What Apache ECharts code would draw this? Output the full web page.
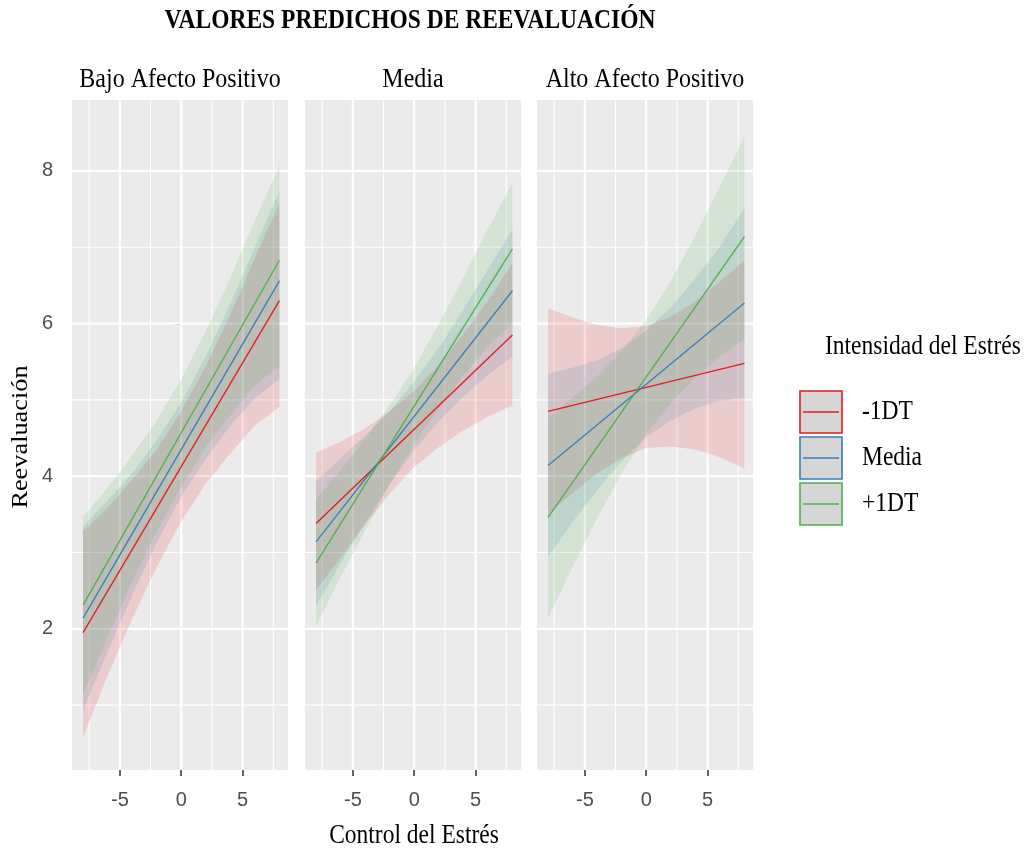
<!DOCTYPE html>
<html><head><meta charset="utf-8">
<script src="https://cdn.jsdelivr.net/npm/echarts@6/dist/echarts.min.js"></script>
<style>html,body{margin:0;padding:0;background:#fff}#c{width:1027px;height:851px}</style>
</head><body><div id="c"></div>
<script>
// ---------------- data ----------------
const panels = ['Bajo Afecto Positivo', 'Media', 'Alto Afecto Positivo'];
const groups = ['-1DT', 'Media', '+1DT'];
const groupColors = ['#E41A1C', '#377EB8', '#4DAF4A'];
const bandAlpha = 0.15;

const xBand = [-8, -6, -4, -2, 0, 2, 4, 6, 8];
const xLine = [-8, 8];
const xTicks = [-5, 0, 5];
const xMinor = [-7.5, -2.5, 2.5, 7.5];
const yTicks = [2, 4, 6, 8];
const yMinor = [1, 3, 5, 7];

// Bajo Afecto Positivo
const bajoRedFit   = [1.95, 6.30];
const bajoRedLo    = [0.58, 1.39, 2.13, 2.81, 3.41, 3.90, 4.30, 4.66, 4.91];
const bajoRedHi    = [3.28, 3.59, 3.95, 4.35, 4.85, 5.44, 6.12, 6.86, 7.58];
const bajoBlueFit  = [2.14, 6.56];
const bajoBlueLo   = [0.93, 1.70, 2.44, 3.13, 3.73, 4.23, 4.66, 5.02, 5.27];
const bajoBlueHi   = [3.34, 3.68, 4.04, 4.47, 4.97, 5.57, 6.26, 7.00, 7.73];
const bajoGreenFit = [2.31, 6.83];
const bajoGreenLo  = [1.14, 1.89, 2.61, 3.27, 3.87, 4.38, 4.80, 5.19, 5.44];
const bajoGreenHi  = [3.47, 3.85, 4.27, 4.73, 5.27, 5.90, 6.60, 7.35, 8.07];

// Media
const mediaRedFit   = [3.38, 5.85];
const mediaRedLo    = [2.51, 2.93, 3.37, 3.77, 4.12, 4.38, 4.60, 4.78, 4.93];
const mediaRedHi    = [4.31, 4.45, 4.63, 4.85, 5.12, 5.46, 5.86, 6.30, 6.79];
const mediaBlueFit  = [3.14, 6.43];
const mediaBlueLo   = [2.30, 2.86, 3.39, 3.89, 4.34, 4.72, 5.04, 5.33, 5.57];
const mediaBlueHi   = [3.93, 4.24, 4.53, 4.85, 5.24, 5.68, 6.18, 6.71, 7.23];
const mediaGreenFit = [2.86, 6.98];
const mediaGreenLo  = [2.03, 2.68, 3.29, 3.89, 4.42, 4.89, 5.32, 5.70, 6.00];
const mediaGreenHi  = [3.69, 4.08, 4.49, 4.93, 5.42, 5.99, 6.60, 7.24, 7.84];

// Alto Afecto Positivo
const altoRedFit   = [4.85, 5.48];
const altoRedLo    = [3.50, 3.78, 4.04, 4.24, 4.37, 4.39, 4.35, 4.25, 4.10];
const altoRedHi    = [6.20, 6.08, 5.98, 5.94, 5.97, 6.09, 6.29, 6.55, 6.83];
const altoBlueFit  = [4.14, 6.27];
const altoBlueLo   = [2.94, 3.40, 3.82, 4.20, 4.51, 4.73, 4.89, 4.99, 5.03];
const altoBlueHi   = [5.35, 5.42, 5.52, 5.68, 5.91, 6.21, 6.59, 7.01, 7.51];
const altoGreenFit = [3.46, 7.14];
const altoGreenLo  = [2.14, 2.81, 3.45, 4.04, 4.55, 4.96, 5.29, 5.57, 5.80];
const altoGreenHi  = [4.76, 5.03, 5.31, 5.64, 6.05, 6.56, 7.15, 7.79, 8.46];

// ---------------- build ----------------
const panelData = [
  [{fit: bajoRedFit, lo: bajoRedLo, hi: bajoRedHi},
   {fit: bajoBlueFit, lo: bajoBlueLo, hi: bajoBlueHi},
   {fit: bajoGreenFit, lo: bajoGreenLo, hi: bajoGreenHi}],
  [{fit: mediaRedFit, lo: mediaRedLo, hi: mediaRedHi},
   {fit: mediaBlueFit, lo: mediaBlueLo, hi: mediaBlueHi},
   {fit: mediaGreenFit, lo: mediaGreenLo, hi: mediaGreenHi}],
  [{fit: altoRedFit, lo: altoRedLo, hi: altoRedHi},
   {fit: altoBlueFit, lo: altoBlueLo, hi: altoBlueHi},
   {fit: altoGreenFit, lo: altoGreenLo, hi: altoGreenHi}]
];

const SERIF = '"Liberation Serif", "Times New Roman", serif';
const SANS = '"Liberation Sans", Arial, sans-serif';
const panelLefts = [72, 305, 537];
const panelW = 216, panelTop = 100, panelH = 670;
const X_MIN = -8.9, X_MAX = 8.7, Y_MIN = 0.15, Y_MAX = 8.93;

function rgba(hex, a) {
  const n = parseInt(hex.slice(1), 16);
  return 'rgba(' + ((n >> 16) & 255) + ',' + ((n >> 8) & 255) + ',' + (n & 255) + ',' + a + ')';
}

const grids = [], xAxes = [], yAxes = [], series = [];
panels.forEach((p, i) => {
  grids.push({left: panelLefts[i], top: panelTop, width: panelW, height: panelH,
    show: true, backgroundColor: '#EBEBEB', borderWidth: 0});
  xAxes.push({type: 'value', gridIndex: i, min: X_MIN, max: X_MAX,
    axisLine: {show: false}, splitLine: {show: false},
    axisTick: {show: true, customValues: xTicks, length: 6, lineStyle: {color: '#333', width: 1.5}},
    axisLabel: {show: true, customValues: xTicks, color: '#4D4D4D', fontFamily: SANS, fontSize: 20, margin: 20}});
  yAxes.push({type: 'value', gridIndex: i, min: Y_MIN, max: Y_MAX,
    axisLine: {show: false}, splitLine: {show: false},
    axisTick: {show: i === 0, customValues: yTicks, length: 6, lineStyle: {color: '#333', width: 1.5}},
    axisLabel: {show: i === 0, customValues: yTicks, color: '#4D4D4D', fontFamily: SANS, fontSize: 20, margin: 19}});

  // grid lines
  series.push({type: 'custom', xAxisIndex: i, yAxisIndex: i, silent: true, z: 1,
    data: [[0, 4]],
    renderItem: (params, api) => {
      const cs = params.coordSys;
      const ch = [];
      const hl = (v, w) => { const py = api.coord([0, v])[1];
        ch.push({type: 'line', shape: {x1: cs.x, y1: py, x2: cs.x + cs.width, y2: py}, style: {stroke: '#FFFFFF', lineWidth: w}}); };
      const vl = (v, w) => { const px = api.coord([v, 4])[0];
        ch.push({type: 'line', shape: {x1: px, y1: cs.y, x2: px, y2: cs.y + cs.height}, style: {stroke: '#FFFFFF', lineWidth: w}}); };
      yMinor.forEach(v => hl(v, 1.1)); xMinor.forEach(v => vl(v, 1.1));
      yTicks.forEach(v => hl(v, 2.2)); xTicks.forEach(v => vl(v, 2.2));
      return {type: 'group', children: ch};
    }});

  // ribbons
  series.push({type: 'custom', xAxisIndex: i, yAxisIndex: i, silent: true, z: 2,
    data: groups.map(() => [0, 4]),
    renderItem: (params, api) => {
      const d = panelData[i][params.dataIndex];
      const pts = [];
      xBand.forEach((x, j) => pts.push(api.coord([x, d.lo[j]])));
      for (let j = xBand.length - 1; j >= 0; j--) pts.push(api.coord([xBand[j], d.hi[j]]));
      return {type: 'polygon', shape: {points: pts}, style: {fill: rgba(groupColors[params.dataIndex], bandAlpha)}};
    }});

  // fitted lines
  groups.forEach((g, k) => {
    series.push({type: 'line', name: g, xAxisIndex: i, yAxisIndex: i, z: 3,
      data: xLine.map((x, j) => [x, panelData[i][k].fit[j]]),
      showSymbol: false, symbol: 'none',
      lineStyle: {color: groupColors[k], width: 1.3}, itemStyle: {color: groupColors[k]}});
  });
});

// text & legend
const graphic = [];
const txt = (text, x, y, opts) => Object.assign({type: 'text', x: x, y: y, scaleY: 1.12,
  style: Object.assign({text: text, fill: '#000', font: '23.5px ' + SERIF,
    align: 'center', verticalAlign: 'middle', textAlign: 'center', textVerticalAlign: 'middle'}, opts || {})});
graphic.push(txt('VALORES PREDICHOS DE REEVALUACIÓN', 410, 21, {font: 'bold 23.5px ' + SERIF}));
panels.forEach((p, i) => graphic.push(txt(p, panelLefts[i] + panelW / 2, 80, {font: '24px ' + SERIF})));
graphic.push(txt('Control del Estrés', 414, 836));
const yt = txt('Reevaluación', 21, 437); yt.rotation = Math.PI / 2; yt.scaleY = 1; yt.scaleX = 1.12; graphic.push(yt);
graphic.push(txt('Intensidad del Estrés', 825, 347, {align: 'left', textAlign: 'left'}));
groups.forEach((g, k) => {
  const top = 391 + k * 46;
  graphic.push({type: 'rect', shape: {x: 800, y: top, width: 42, height: 42},
    style: {fill: '#D6D6D6', stroke: groupColors[k], lineWidth: 1.6}});
  graphic.push({type: 'line', shape: {x1: 803, y1: top + 21, x2: 839, y2: top + 21},
    style: {stroke: groupColors[k], lineWidth: 1.3}});
  graphic.push(txt(g, 862, top + 21, {align: 'left', textAlign: 'left'}));
});

const chart = echarts.init(document.getElementById('c'), null, {renderer: 'canvas'});
chart.setOption({
  animation: false,
  backgroundColor: '#FFFFFF',
  grid: grids, xAxis: xAxes, yAxis: yAxes, series: series, graphic: graphic
});
</script></body></html>
